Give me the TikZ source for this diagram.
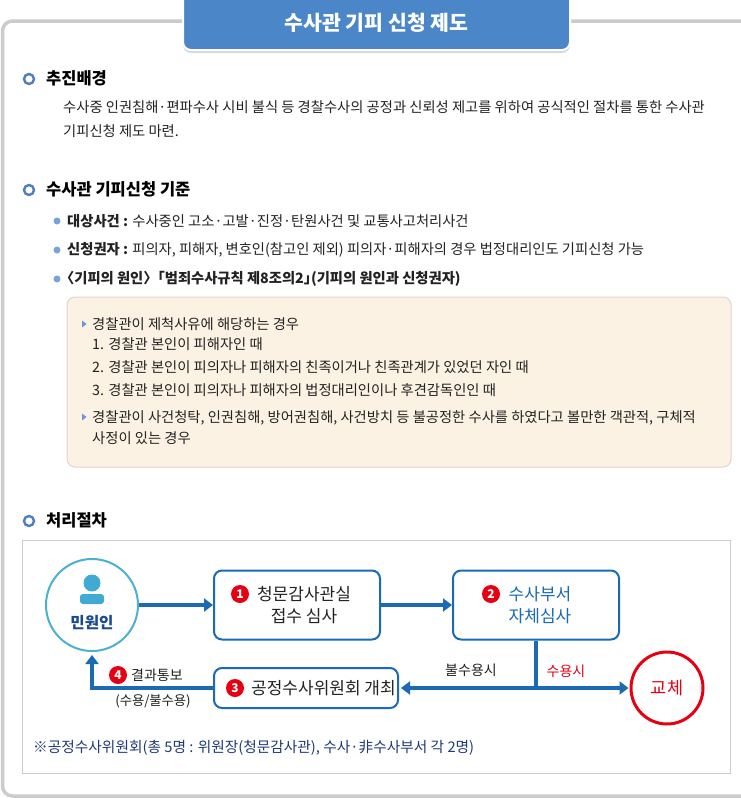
\documentclass[tikz,border=0pt]{standalone}
\usepackage{fontspec}
\setmainfont{Noto Sans CJK KR}
\usetikzlibrary{shadows,arrows.meta,calc}
\definecolor{titleblue}{HTML}{4A86C8}
\definecolor{flowblue}{HTML}{1A6AB5}
\definecolor{cyanc}{HTML}{4BB1D3}
\definecolor{iconc}{HTML}{40AAD2}
\definecolor{redc}{HTML}{E60012}
\definecolor{framegray}{HTML}{CCCCCC}
\definecolor{beige}{HTML}{FCF2E3}
\definecolor{beigeline}{HTML}{DDD6CC}
\definecolor{dotblue}{HTML}{7BA3D8}
\definecolor{ringblue}{HTML}{4F7DC0}
\definecolor{navy}{HTML}{1F3A78}
\definecolor{minblue}{HTML}{1C4A8A}
\definecolor{txt}{HTML}{222222}
\tikzset{
  body/.style={anchor=west, inner sep=0pt, font=\fontsize{14.3}{16}\selectfont, text=txt},
  head/.style={anchor=west, inner sep=0pt, font=\fontsize{16.5}{18}\selectfont\bfseries, text=black},
  ring/.style={circle, draw=ringblue, line width=2.4pt, minimum size=10pt, inner sep=0pt},
  ldot/.style={circle, fill=dotblue, minimum size=7pt, inner sep=0pt},
  numc/.style={circle, fill=redc, text=white, minimum size=18pt, inner sep=0pt, font=\fontsize{12}{12}\selectfont\bfseries},
  fbox/.style={draw=flowblue, line width=2pt, rounded corners=8pt, fill=white, inner sep=0pt},
  ftext/.style={inner sep=0pt, font=\fontsize{17}{22}\selectfont, text=txt},
  ltext/.style={inner sep=0pt, font=\fontsize{14}{16}\selectfont, text=txt},
  arr/.style={draw=flowblue, line width=3.5pt, -{Triangle[length=9pt,width=13pt]}},
  flowline/.style={draw=flowblue, line width=3.5pt},
}
\begin{document}
\begin{tikzpicture}[x=1pt,y=-1pt]
\useasboundingbox (0,0) rectangle (741,798);
\clip (0,0) rectangle (741,798);
\fill[white] (0,0) rectangle (741,798);
% outer frame
\draw[framegray, line width=3.5pt, rounded corners=10pt] (2.5,21) rectangle (780,796);
% title
\node[fill=titleblue, draw=white, line width=2pt, rounded corners=8pt,
      minimum width=387pt, minimum height=60pt, inner sep=0pt,
      drop shadow={shadow xshift=0pt, shadow yshift=-3pt, opacity=0.3}] (title) at (376.5,20) {};
\node[inner sep=0pt, text=white, font=\fontsize{20.5}{22}\selectfont\bfseries] (titletext) at (376.5,23) {수사관 기피 신청 제도};

% section 1
\node[ring] (r1) at (29,79) {};
\node[head] (h1) at (46,78) {추진배경};
\node[body] (p1) at (63,107) {수사중 인권침해·편파수사 시비 불식 등 경찰수사의 공정과 신뢰성 제고를 위하여 공식적인 절차를 통한 수사관};
\node[body] (p2) at (63,131) {기피신청 제도 마련.};

% section 2
\node[ring] (r2) at (29,190) {};
\node[head] (h2) at (46,189) {수사관 기피신청 기준};
\node[ldot] (d1) at (57,221) {};
\node[body] (l1) at (67,221) {\textbf{대상사건 :} 수사중인 고소·고발·진정·탄원사건 및 교통사고처리사건};
\node[ldot] (d2) at (57,250) {};
\node[body] (l2) at (67,250) {\textbf{신청권자 :} 피의자, 피해자, 변호인(참고인 제외) 피의자·피해자의 경우 법정대리인도 기피신청 가능};
\node[ldot] (d3) at (57,279) {};
\node[body] (l3) at (67,279) {\textbf{\hspace{-0.5em}〈기피의 원인〉\hspace{-0.5em}「범죄수사규칙 제8조의2」\hspace{-0.5em}(기피의 원인과 신청권자)}};

% beige box
\node[fill=beige, draw=beigeline, line width=1pt, rounded corners=8pt, minimum width=664pt, minimum height=170pt, inner sep=0pt] (bbox) at (399,382) {};
\fill[dotblue!90!blue] (82,320.5) -- (86.5,324) -- (82,327.5) -- cycle;
\node[body] (b1) at (92,324) {경찰관이 제척사유에 해당하는 경우};
\node[body] (b2) at (92,344) {1. 경찰관 본인이 피해자인 때};
\node[body] (b3) at (92,367) {2. 경찰관 본인이 피의자나 피해자의 친족이거나 친족관계가 있었던 자인 때};
\node[body] (b4) at (92,390) {3. 경찰관 본인이 피의자나 피해자의 법정대리인이나 후견감독인인 때};
\fill[dotblue!90!blue] (82,413.5) -- (86.5,417) -- (82,420.5) -- cycle;
\node[body] (b5) at (92,418) {경찰관이 사건청탁, 인권침해, 방어권침해, 사건방치 등 불공정한 수사를 하였다고 볼만한 객관적, 구체적};
\node[body] (b6) at (92,438) {사정이 있는 경우};

% section 3
\node[ring] (r3) at (29,521) {};
\node[head] (h3) at (46,520) {처리절차};
\draw[framegray, line width=1pt] (22,540) rectangle (730.5,773.5);

% flow
\node[circle, draw=cyanc, line width=2pt, minimum size=92pt, inner sep=0pt, fill=white] (minwon) at (92,605) {};
\fill[iconc] (92,583) circle (8.5);
\fill[iconc, rounded corners=3pt] (80,594) rectangle (104,604);
\node[inner sep=0pt, text=minblue, font=\fontsize{15.6}{17}\selectfont\bfseries] (mtext) at (92,623) {민원인};

\node[fbox, minimum width=166pt, minimum height=69pt] (box1) at (297,605) {};
\node[numc] (n1) at (240,594) {1};
\node[ftext, align=center] (t1) at (304,605) {청문감사관실\\접수 심사};

\node[fbox, minimum width=166pt, minimum height=69pt] (box2) at (536,605) {};
\node[numc] (n2) at (491,594) {2};
\node[ftext, align=left, text=flowblue] (t2) at (540,605) {수사부서\\자체심사};

\node[fbox, minimum width=184pt, minimum height=40pt] (box3) at (306,688) {};
\node[numc] (n3) at (235,688) {3};
\node[ftext, anchor=west] (t3) at (251,688) {공정수사위원회 개최};

\node[circle, draw=redc, line width=3pt, minimum size=72pt, inner sep=0pt] (gyoche) at (667,688) {};
\node[ftext, text=redc, font=\fontsize{17.5}{20}\selectfont] (t5) at (667,688) {교체};

\draw[arr] (minwon.east) -- (box1.west);
\draw[arr] (box1.east) -- (box2.west);
\coordinate (j) at (box2.south |- box3.east);
\draw[flowline] (box2.south) -- (j);
\draw[arr, shorten >=2pt] (j) -- (box3.east);
\draw[arr, shorten >=1pt] (j) -- (gyoche.west);
\draw[arr, shorten >=3pt] (box3.west) -| (minwon.south);

\node[ltext] (l5) at (471,670) {불수용시};
\node[ltext, text=redc] (l6) at (566,671) {수용시};
\node[numc] (n4) at (118,675) {4};
\node[ltext, anchor=west] (l7) at (131,675) {결과통보};
\node[ltext, font=\fontsize{13.3}{15}\selectfont] (l8) at (153,701) {(수용/불수용)};

\node[ltext, anchor=west, text=navy, font=\fontsize{14.7}{16}\selectfont] (foot) at (33,748) {※공정수사위원회(총 5명 : 위원장(청문감사관), 수사·非수사부서 각 2명)};
\end{tikzpicture}
\end{document}
